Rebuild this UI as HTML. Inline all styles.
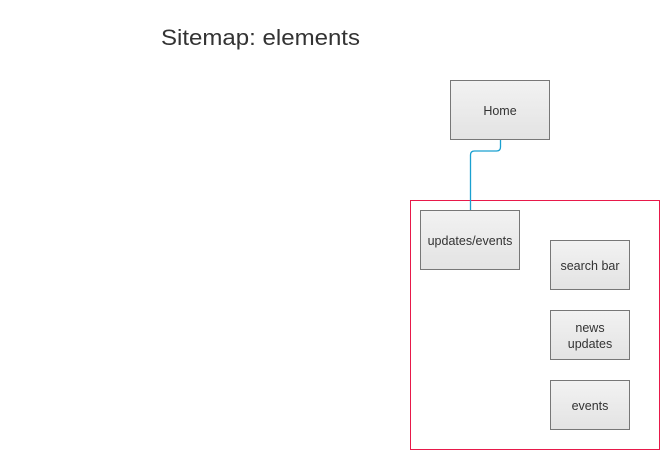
<!DOCTYPE html>
<html><head><meta charset="utf-8"><style>
body{margin:0;width:669px;height:459px;background:#fff;overflow:hidden;font-family:"Liberation Sans",Arial,sans-serif}
</style></head><body>
<svg width="669" height="459" xmlns="http://www.w3.org/2000/svg" style="position:absolute;left:0;top:0">
<defs><linearGradient id="g" x1="0" y1="0" x2="0" y2="1"><stop offset="0" stop-color="#f2f2f2"/><stop offset="1" stop-color="#e3e3e3"/></linearGradient></defs>
<text x="161" y="45" font-size="22" fill="#333" font-family="Liberation Sans, sans-serif" textLength="199" lengthAdjust="spacingAndGlyphs">Sitemap: elements</text>
<rect x="410.5" y="200.5" width="249" height="249" fill="none" stroke="#e8194a" stroke-width="1"/>
<path d="M500.5 139 V147 Q500.5 151 496.5 151 H474.5 Q470.5 151 470.5 155 V210" fill="none" stroke="#1aa0d0" stroke-width="1.3"/>
<g stroke="#777" fill="url(#g)">
<rect x="450.5" y="80.5" width="99" height="59"/>
<rect x="420.5" y="210.5" width="99" height="59"/>
<rect x="550.5" y="240.5" width="79" height="49"/>
<rect x="550.5" y="310.5" width="79" height="49"/>
<rect x="550.5" y="380.5" width="79" height="49"/>
</g>
<g font-size="12.5" fill="#333" text-anchor="middle" font-family="Liberation Sans, sans-serif">
<text x="500" y="115">Home</text>
<text x="470" y="245">updates/events</text>
<text x="590" y="270">search bar</text>
<text x="590" y="332">news</text>
<text x="590" y="348">updates</text>
<text x="590" y="410">events</text>
</g>
</svg>
</body></html>
